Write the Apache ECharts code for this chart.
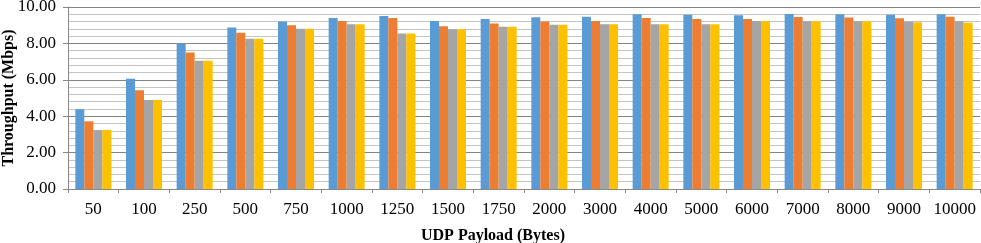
<!DOCTYPE html>
<html>
<head>
<meta charset="utf-8">
<script src="https://cdn.jsdelivr.net/npm/echarts@6/dist/echarts.min.js"></script>
<style>
  html, body { margin: 0; padding: 0; background: #fff; }
  #chart { width: 981px; height: 243px; }
</style>
</head>
<body>
<div id="chart"></div>
<script>
const payloads = ['50', '100', '250', '500', '750', '1000', '1250', '1500', '1750',
  '2000', '3000', '4000', '5000', '6000', '7000', '8000', '9000', '10000'];

const blueVals = [4.38, 6.06, 8.00, 8.87, 9.20, 9.40, 9.50, 9.23, 9.34,
  9.43, 9.47, 9.60, 9.58, 9.55, 9.62, 9.60, 9.58, 9.60];
const orangeVals = [3.72, 5.42, 7.50, 8.58, 9.00, 9.23, 9.40, 8.94, 9.09,
  9.20, 9.23, 9.40, 9.34, 9.34, 9.45, 9.42, 9.38, 9.47];
const grayVals = [3.24, 4.89, 7.04, 8.25, 8.80, 9.05, 8.54, 8.78, 8.92,
  9.02, 9.05, 9.05, 9.05, 9.23, 9.22, 9.22, 9.20, 9.23];
const yellowVals = [3.24, 4.89, 7.04, 8.25, 8.80, 9.05, 8.54, 8.78, 8.92,
  9.02, 9.05, 9.05, 9.05, 9.23, 9.22, 9.22, 9.16, 9.13];

const colors = ['#5B9BD5', '#ED7D31', '#A5A5A5', '#FFC000'];
const font = '"Liberation Serif", "DejaVu Serif", serif';

const chart = echarts.init(document.getElementById('chart'));

const makeSeries = (vals, i) => ({
  type: 'bar',
  data: vals,
  barWidth: 9,
  barGap: '0%',
  itemStyle: { color: colors[i] }
});

chart.setOption({
  animation: false,
  grid: { left: 68, right: 1, top: 7, bottom: 54, containLabel: false, outerBoundsMode: 'none' },
  xAxis: {
    type: 'category',
    data: payloads,
    axisLine: { lineStyle: { color: '#888', width: 1 } },
    axisTick: { show: true, length: 4, lineStyle: { color: '#888' } },
    axisLabel: { color: '#000', fontFamily: font, fontSize: 17, margin: 12, interval: 0 },
    name: 'UDP Payload (Bytes)',
    nameLocation: 'middle',
    nameGap: 39,
    nameMoveOverlap: false,
    nameTextStyle: {
      color: '#000', fontFamily: font, fontSize: 16, fontWeight: 'bold',
      padding: [0, 62, 0, 0]
    }
  },
  yAxis: {
    type: 'value',
    min: 0,
    max: 10,
    interval: 2,
    axisLine: { show: true, lineStyle: { color: '#888' } },
    axisTick: { show: true, length: 5, lineStyle: { color: '#888' } },
    axisLabel: {
      color: '#000', fontFamily: font, fontSize: 17, margin: 12,
      formatter: v => v.toFixed(2)
    },
    splitLine: { show: true, lineStyle: { color: '#858585', width: 1 } },
    minorTick: { show: false, splitNumber: 5 },
    minorSplitLine: { show: true, lineStyle: { color: '#c4c4c4', width: 1 } },
    name: 'Throughput (Mbps)',
    nameLocation: 'middle',
    nameGap: 51,
    nameMoveOverlap: false,
    nameTextStyle: { color: '#000', fontFamily: font, fontSize: 16, fontWeight: 'bold' }
  },
  series: [blueVals, orangeVals, grayVals, yellowVals].map(makeSeries)
});
</script>
</body>
</html>
